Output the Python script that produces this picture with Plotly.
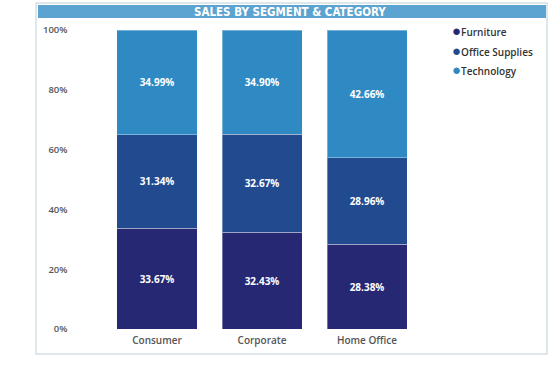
import plotly.graph_objects as go

segments = ["Consumer", "Corporate", "Home Office"]
furniture = [33.67, 32.43, 28.38]
office_supplies = [31.34, 32.67, 28.96]
technology = [34.99, 34.90, 42.66]
series_names = ["Furniture", "Office Supplies", "Technology"]
series_values = [furniture, office_supplies, technology]
colors = ["#262873", "#224A8F", "#2F8AC4"]
y_ticks = [0, 20, 40, 60, 80, 100]
y_tick_labels = ["0%", "20%", "40%", "60%", "80%", "100%"]
title_text = "SALES BY SEGMENT & CATEGORY"

W, H = 560, 379

fig = go.Figure()
for name, vals, col in zip(series_names, series_values, colors):
    fig.add_trace(go.Bar(
        x=segments, y=vals, name=name, showlegend=False,
        marker=dict(color=col, line=dict(color="rgba(255,255,255,0.35)", width=1)),
        texttemplate="%{y:.2f}%", textposition="inside", insidetextanchor="middle",
        textangle=0, constraintext="none",
        textfont=dict(family="Open Sans", size=10, color="white", weight="bold"),
    ))

# legend drawn as text entries (marker glyph + name)
legend_annotations = []
for i, (name, col) in enumerate(zip(series_names, colors)):
    legend_annotations.append(dict(
        text=f"<span style='color:{col};font-size:15px'>●</span>{name}",
        xref="paper", yref="paper", x=450 / W, y=(H - (30.5 + 19.5 * i)) / H,
        xanchor="left", yanchor="middle", showarrow=False,
        font=dict(family="Open Sans", size=10, color="#333333", weight=600),
    ))

fig.update_layout(
    width=W, height=H, barmode="stack", bargap=0.238,
    paper_bgcolor="white", plot_bgcolor="white",
    margin=dict(l=0, r=0, t=0, b=0, autoexpand=False),
    showlegend=False,
    xaxis=dict(domain=[104.5 / W, 419.5 / W], range=[-0.5, 2.5], showgrid=False,
               zeroline=False, showline=False, ticks="", automargin=False,
               ticklabelstandoff=4,
               tickfont=dict(family="Open Sans", size=10, color="#555555", weight=600)),
    yaxis=dict(domain=[(H - 329) / H, (H - 30) / H], range=[0, 100], showgrid=False,
               zeroline=False, showline=False, ticks="", automargin=False,
               tickvals=y_ticks, ticktext=y_tick_labels, ticklabelstandoff=36,
               tickfont=dict(family="Open Sans", size=9.5, color="#555555", weight=600)),
    shapes=[
        dict(type="rect", xref="paper", yref="paper",
             x0=36 / W, x1=547 / W, y0=(H - 354) / H, y1=(H - 3) / H,
             line=dict(color="#D3DFE3", width=1.5), fillcolor="rgba(0,0,0,0)", layer="below"),
        dict(type="rect", xref="paper", yref="paper",
             x0=38 / W, x1=546 / W, y0=(H - 18) / H, y1=(H - 5) / H,
             line=dict(width=0), fillcolor="#5BA3D0", layer="below"),
    ],
    annotations=[
        dict(text=title_text, xref="paper", yref="paper", x=290 / W, y=(H - 11.5) / H,
             xanchor="center", yanchor="middle", showarrow=False,
             font=dict(family="DejaVu Sans Condensed", size=11.5, color="white", weight="bold")),
    ] + legend_annotations,
)

fig.write_html("out.html", config={"displayModeBar": False},
               post_script="document.body.style.margin='0';")
